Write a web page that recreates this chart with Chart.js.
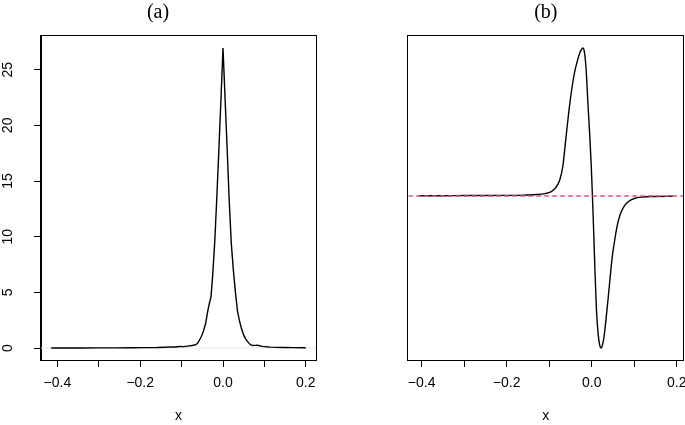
<!DOCTYPE html>
<html><head><meta charset="utf-8">
<script src="https://cdn.jsdelivr.net/npm/chart.js@4/dist/chart.umd.min.js"></script>
<style>
html,body{margin:0;padding:0;background:#fff;}
body{width:685px;height:425px;position:relative;overflow:hidden;}
canvas{position:absolute;top:0;}
</style></head>
<body>
<canvas id="ca" width="342" height="425" style="left:0px"></canvas>
<canvas id="cb" width="292" height="425" style="left:393px"></canvas>
<script>
// ---- data ----
const panelTitles = ['(a)', '(b)'];
const xAxisTitle = 'x';
const xTickValues = [-0.4, -0.3, -0.2, -0.1, 0.0, 0.1, 0.2];
const xTickLabels = ['\u22120.4', '', '\u22120.2', '', '0.0', '', '0.2'];
const yTickValuesA = [0, 5, 10, 15, 20, 25];
const yTickLabelsA = ['0', '5', '10', '15', '20', '25'];

// panel (a): density curve
const xA = [-0.415, -0.38, -0.34, -0.3, -0.26, -0.22, -0.19, -0.16, -0.14, -0.125, -0.115, -0.105, -0.095, -0.085, -0.075, -0.068, -0.062, -0.057, -0.052, -0.047, -0.042, -0.037, -0.033, -0.029, -0.025, -0.02, -0.015, -0.01, -0.005, 0, 0.005, 0.01, 0.015, 0.02, 0.025, 0.03, 0.035, 0.04, 0.045, 0.05, 0.055, 0.06, 0.066, 0.072, 0.078, 0.083, 0.088, 0.095, 0.105, 0.115, 0.13, 0.15, 0.17, 0.2];
const densityA = [0.0, 0.0, 0.0, 0.01, 0.01, 0.02, 0.03, 0.04, 0.07, 0.10, 0.09, 0.13, 0.12, 0.17, 0.22, 0.27, 0.40, 0.70, 1.05, 1.55, 2.2, 3.3, 4.0, 4.6, 6.5, 9.5, 13.5, 17.8, 22.3, 26.95, 22.4, 17.9, 13.2, 9.4, 7.0, 5.0, 3.3, 2.4, 1.7, 1.15, 0.8, 0.55, 0.3, 0.22, 0.24, 0.26, 0.2, 0.15, 0.11, 0.08, 0.06, 0.04, 0.03, 0.02];
const zeroLineA = 0;

// panel (b): derivative-like curve (no y scale shown)
const xB = [-0.4075, -0.35, -0.3, -0.25, -0.2, -0.16, -0.13, -0.11, -0.095, -0.085, -0.075, -0.068, -0.06, -0.053, -0.046, -0.04, -0.034, -0.029, -0.025, -0.021, -0.017, -0.013, -0.009, -0.005, -0.001, 0.003, 0.007, 0.011, 0.015, 0.019, 0.022, 0.025, 0.029, 0.033, 0.038, 0.043, 0.048, 0.054, 0.06, 0.067, 0.075, 0.085, 0.1, 0.12, 0.15, 0.1915];
const curveB = [0.002, 0.002, 0.003, 0.003, 0.004, 0.006, 0.01, 0.016, 0.03, 0.055, 0.11, 0.2, 0.41, 0.59, 0.74, 0.84, 0.91, 0.96, 0.985, 1.0, 0.97, 0.85, 0.63, 0.43, 0.2, -0.1, -0.45, -0.76, -0.93, -1.01, -1.027, -1.01, -0.95, -0.85, -0.71, -0.56, -0.42, -0.3, -0.2, -0.125, -0.075, -0.04, -0.017, -0.007, -0.003, -0.001];
const refLineB = 0;

// ---- helpers ----
function rRange(arr) { // R-style 4% axis extension
  const lo = Math.min(...arr), hi = Math.max(...arr), d = hi - lo;
  return [lo - 0.04 * d, hi + 0.04 * d];
}
const pts = (xs, ys) => xs.map((x, i) => ({x: x, y: ys[i]}));

const boxPlugin = {
  id: 'box',
  afterDraw(chart) {
    const a = chart.chartArea, c = chart.ctx;
    c.save();
    c.strokeStyle = '#000';
    c.lineWidth = 1;
    c.strokeRect(Math.round(a.left) - 0.5, Math.round(a.top) - 0.5, Math.round(a.right - a.left) + 1, Math.round(a.bottom - a.top) + 1);
    c.restore();
  }
};

const font = {family: "'Liberation Sans', Arial, sans-serif", size: 14};
const titleFont = {family: "'Liberation Serif', 'Times New Roman', serif", size: 20, weight: 'normal'};

function xScale(range) {
  return {
    type: 'linear', position: 'bottom', min: range[0], max: range[1],
    afterBuildTicks(s) { s.ticks = xTickValues.map(v => ({value: v})); },
    afterFit(s) { s.height = 65; s.paddingLeft = 0; s.paddingRight = 0; },
    ticks: {
      autoSkip: false, maxRotation: 0, minRotation: 0, padding: 8, color: '#000', font: font,
      callback: (v, i) => xTickLabels[i]
    },
    grid: {drawOnChartArea: false, drawTicks: true, tickLength: 7, color: '#000', tickWidth: 1},
    border: {display: true, color: '#000', width: 1},
    title: {display: true, text: xAxisTitle, color: '#000', font: font, padding: {top: 0, bottom: 0}}
  };
}

// ---- panel (a) ----
const xrA = rRange(xA), yrA = rRange(densityA);
new Chart(document.getElementById('ca'), {
  type: 'line',
  data: {datasets: [
    {data: pts(xA, densityA), borderColor: '#000', borderWidth: 1.4, pointRadius: 0, tension: 0, fill: false},
    {data: [{x: xrA[0], y: zeroLineA}, {x: xrA[1], y: zeroLineA}], borderColor: '#e6e6e6', borderWidth: 1, pointRadius: 0, fill: false}
  ]},
  options: {
    responsive: false, animation: false, events: [],
    layout: {padding: {top: 0, right: 26, left: 0, bottom: 0}},
    plugins: {
      legend: {display: false}, tooltip: {enabled: false},
      title: {display: true, text: panelTitles[0], color: '#000', font: titleFont,
        padding: {top: 1, bottom: 11}}
    },
    scales: {
      x: xScale(xrA),
      y: {
        type: 'linear', position: 'left', min: yrA[0], max: yrA[1],
        afterBuildTicks(s) { s.ticks = yTickValuesA.map(v => ({value: v})); },
        afterFit(s) { s.width = 41; s.paddingTop = 0; s.paddingBottom = 0; },
        ticks: {autoSkip: false, minRotation: 90, maxRotation: 90, crossAlign: 'center', padding: 18,
          color: '#000', font: font, callback: (v, i) => yTickLabelsA[i]},
        grid: {drawOnChartArea: false, drawTicks: true, tickLength: 7, color: '#000', tickWidth: 1},
        border: {display: true, color: '#000', width: 1}
      }
    }
  },
  plugins: [boxPlugin]
});

// ---- panel (b) ----
const xrB = rRange(xB), yrB = rRange(curveB);
new Chart(document.getElementById('cb'), {
  type: 'line',
  data: {datasets: [
    {data: [{x: xrB[0], y: refLineB}, {x: xrB[1], y: refLineB}], borderColor: '#DF536B', borderWidth: 1.4, borderDash: [4.5, 3.5], pointRadius: 0, fill: false},
    {data: pts(xB, curveB), borderColor: '#000', borderWidth: 1.4, pointRadius: 0, cubicInterpolationMode: 'monotone', fill: false}
  ]},
  options: {
    responsive: false, animation: false, events: [],
    layout: {padding: {top: 0, right: 1.7, left: 15.3, bottom: 0}},
    plugins: {
      legend: {display: false}, tooltip: {enabled: false},
      title: {display: true, text: panelTitles[1], color: '#000', font: titleFont,
        padding: {top: 1, bottom: 11}}
    },
    scales: {
      x: xScale(xrB),
      y: {type: 'linear', display: false, min: yrB[0], max: yrB[1]}
    }
  },
  plugins: [boxPlugin]
});
</script>
</body></html>
